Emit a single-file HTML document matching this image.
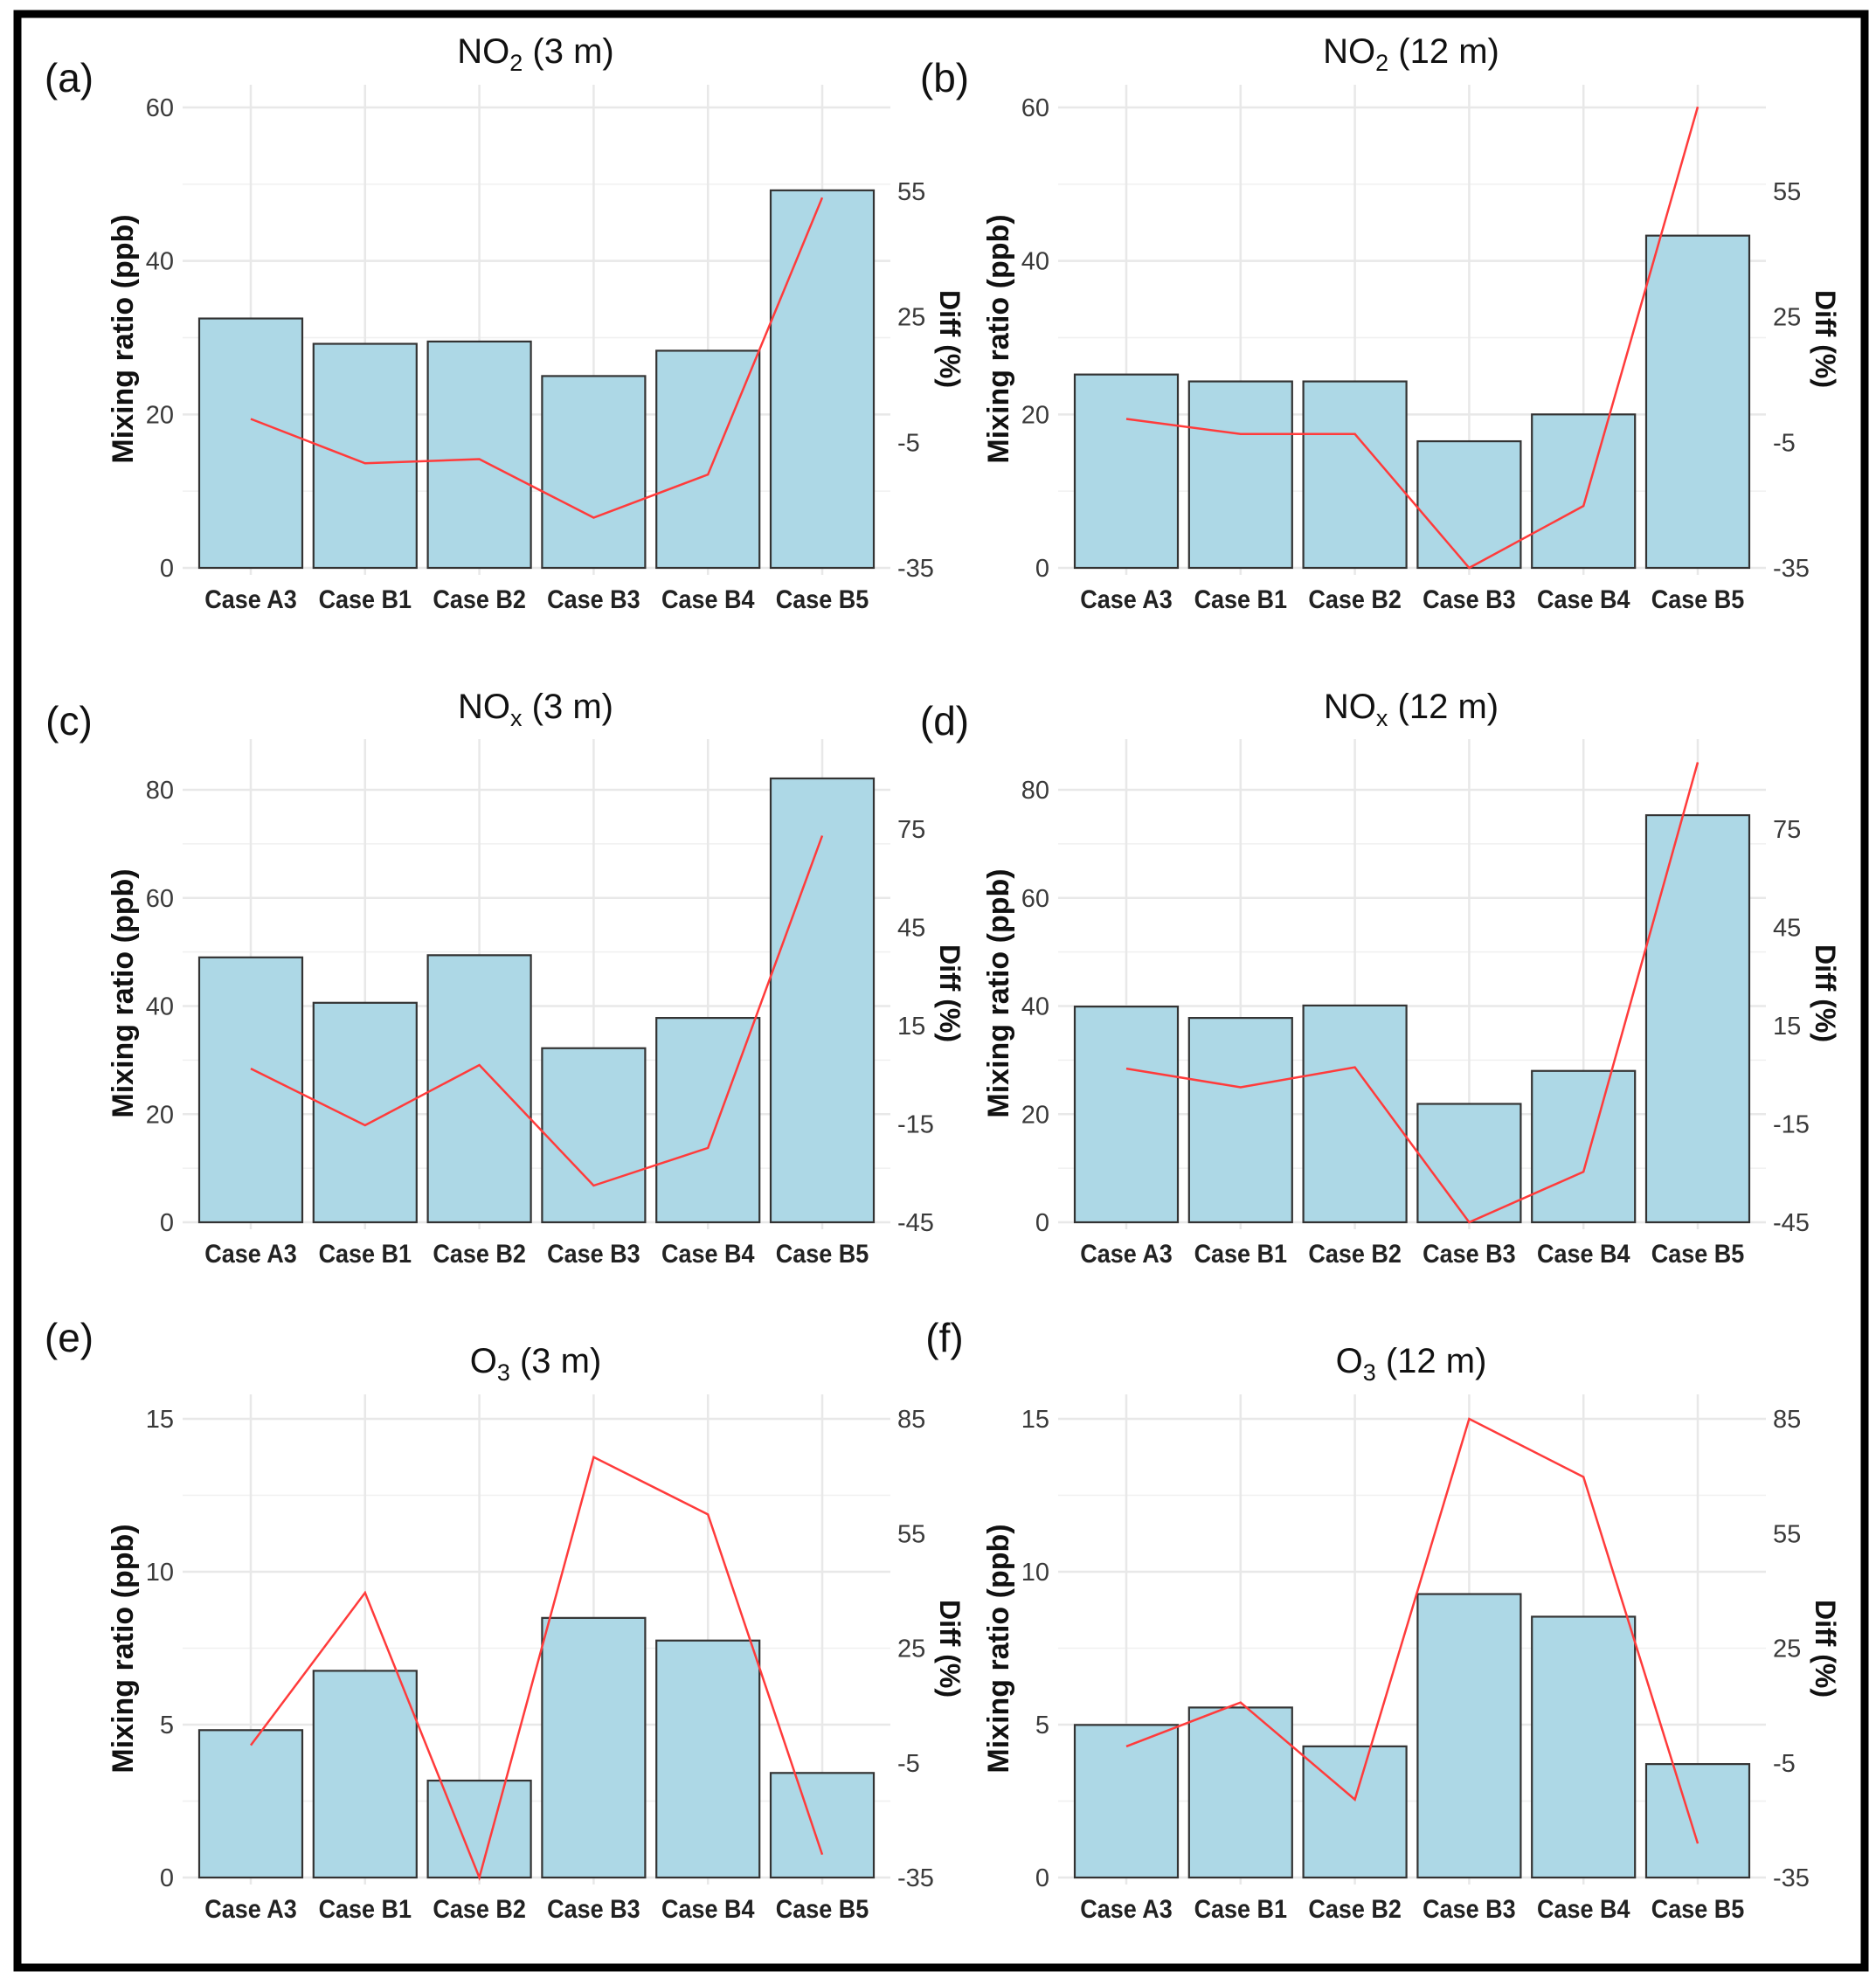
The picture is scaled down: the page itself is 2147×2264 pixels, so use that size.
<!DOCTYPE html>
<html><head><meta charset="utf-8"><style>
html,body{margin:0;padding:0;background:#fff}
svg{display:block}
text{font-family:"Liberation Sans",sans-serif}
</style></head><body>
<svg id="fig" width="2147" height="2264" viewBox="0 0 2147 2264" xmlns="http://www.w3.org/2000/svg">
<rect x="20" y="16" width="2114" height="2236" fill="none" stroke="#000" stroke-width="9"/>
</svg>
<script>
const categories = ["Case A3","Case B1","Case B2","Case B3","Case B4","Case B5"];
const titlesMain = ["NO","NO","NO","NO","O","O"];
const titlesSub = ["2","2","x","x","3","3"];
const titlesTail = [" (3 m)"," (12 m)"," (3 m)"," (12 m)"," (3 m)"," (12 m)"];
const panelLabels = ["(a)","(b)","(c)","(d)","(e)","(f)"];
const barsA = [32.5,29.2,29.5,25.0,28.3,49.2];
const diffA = [0.6,-10,-9,-23,-12.7,53.5];
const barsB = [25.2,24.3,24.3,16.5,20.0,43.3];
const diffB = [0.6,-3,-3,-35,-20.2,75.2];
const barsC = [49.0,40.6,49.4,32.2,37.8,82.1];
const diffC = [1.9,-15.4,3,-33.8,-22.3,73];
const barsD = [39.9,37.8,40.1,21.9,28.0,75.3];
const diffD = [1.9,-3.8,2.3,-45,-29.6,95.4];
const barsE = [4.82,6.76,3.17,8.49,7.75,3.42];
const diffE = [-0.4,39.5,-35,75,60,-29];
const barsF = [4.99,5.56,4.29,9.27,8.53,3.71];
const diffF = [-0.7,10.8,-14.6,85,69.8,-26.1];
const primTicks1 = [0,20,40,60], primMinor1 = [10,30,50];
const primTicks2 = [0,20,40,60,80], primMinor2 = [10,30,50,70];
const primTicks3 = [0,5,10,15], primMinor3 = [2.5,7.5,12.5];
const secTicks1 = [-35,-5,25,55];
const secTicks2 = [-45,-15,15,45,75];
const secTicks3 = [-35,-5,25,55,85];

const NS="http://www.w3.org/2000/svg";
const svg=document.getElementById('fig');
function mk(tag,attrs,parent){const e=document.createElementNS(NS,tag);for(const k in attrs)e.setAttribute(k,attrs[k]);(parent||svg).appendChild(e);return e;}

const rows=[
 {zero:650,top:123,gridTop:97,pMax:60,pt:primTicks1,pm:primMinor1,sMin:-35,sMax:55,sTop:219,st:secTicks1},
 {zero:1399,top:904,gridTop:846,pMax:80,pt:primTicks2,pm:primMinor2,sMin:-45,sMax:75,sTop:949,st:secTicks2},
 {zero:2149,top:1624,gridTop:1596,pMax:15,pt:primTicks3,pm:primMinor3,sMin:-35,sMax:85,sTop:1624,st:secTicks3}
];
const panels=[[barsA,diffA],[barsB,diffB],[barsC,diffC],[barsD,diffD],[barsE,diffE],[barsF,diffF]];
const labelY=[89,825,1531];
const titleY=[58,808,1557];

panels.forEach((p,i)=>{
 const r=rows[Math.floor(i/2)], col=i%2, ox=col*1002;
 const g=mk('g',{});
 
 
 const left=209+ox, right=1019+ox, step=130.8, c0=287+ox;
 const xc=k=>c0+k*step;
 const yP=v=>r.zero-(v/r.pMax)*(r.zero-r.top);
 const yS=v=>r.zero-(v-r.sMin)/(r.sMax-r.sMin)*(r.zero-r.sTop);
 r.pm.forEach(v=>{const l=mk('line',{x1:left,x2:right,y1:yP(v),y2:yP(v),stroke:'#f0f0f0','stroke-width':1.5},g);
  });
 r.pt.forEach(v=>{const l=mk('line',{x1:left,x2:right,y1:yP(v),y2:yP(v),stroke:'#e8e8e8','stroke-width':2.5},g);
  
  const t=mk('text',{x:199+ox,y:yP(v)+10,'text-anchor':'end','font-size':29,fill:'#3a3a3a'},g);t.textContent=v;
  });
 categories.forEach((c,k)=>{const l=mk('line',{x1:xc(k),x2:xc(k),y1:r.gridTop,y2:r.zero+8,stroke:'#e8e8e8','stroke-width':2.5},g);
  });
 p[0].forEach((v,k)=>{const w=118;const b=mk('rect',{x:xc(k)-w/2,y:yP(v),width:w,height:r.zero-yP(v),fill:'#add8e6',stroke:'#333','stroke-width':2.2},g);
  });
 const pts=p[1].map((v,k)=>xc(k)+','+yS(v)).join(' ');
 const pl=mk('polyline',{points:pts,fill:'none',stroke:'#ff3b3b','stroke-width':2.5},g);
 
 r.st.forEach(v=>{const t=mk('text',{x:1027+ox,y:yS(v)+10,'font-size':29,fill:'#3a3a3a'},g);t.textContent=v;
  });
 categories.forEach((c,k)=>{const t=mk('text',{x:0,y:0,'text-anchor':'middle','font-size':30,'font-weight':'bold',fill:'#222',transform:`translate(${xc(k)},${r.zero+46}) scale(0.9,1)`},g);t.textContent=c;
  });
 const cy=r.zero-262;
 const yt=mk('text',{x:0,y:0,'text-anchor':'middle','font-size':34,'font-weight':'bold',fill:'#111',transform:`translate(${152+ox},${cy}) rotate(-90)`},g);
 yt.textContent='Mixing ratio (ppb)';
 const dt=mk('text',{x:0,y:0,'text-anchor':'middle','font-size':32,'font-weight':'bold',fill:'#111',transform:`translate(${1076+ox},${cy}) rotate(90)`},g);
 dt.textContent='Diff (%)';
 const ty=titleY[Math.floor(i/2)];
 const tt=mk('text',{x:613+ox,y:ty+14,'text-anchor':'middle','font-size':40,fill:'#111'},g);
 
 const s1=mk('tspan',{},tt);s1.textContent=titlesMain[i];
 const s2=mk('tspan',{'font-size':27,dy:9},tt);s2.textContent=titlesSub[i];
 const s3=mk('tspan',{dy:-9},tt);s3.textContent=titlesTail[i];
 const pl2=mk('text',{x:79+ox,y:labelY[Math.floor(i/2)]+16,'text-anchor':'middle','font-size':46,fill:'#111'},g);
 pl2.textContent=panelLabels[i];
});
</script>
</body></html>
